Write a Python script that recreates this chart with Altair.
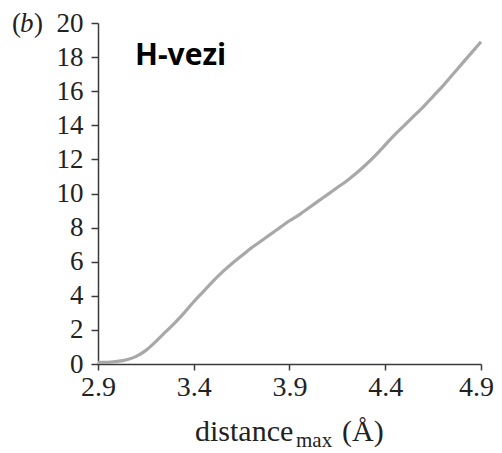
import altair as alt
import pandas as pd

distance = [2.9, 2.95, 3.0, 3.05, 3.1, 3.15, 3.2, 3.25, 3.3, 3.35, 3.4, 3.45, 3.5, 3.55,
            3.6, 3.65, 3.7, 3.75, 3.8, 3.85, 3.9, 3.95, 4.0, 4.05, 4.1, 4.15, 4.2, 4.25,
            4.3, 4.35, 4.4, 4.45, 4.5, 4.55, 4.6, 4.65, 4.7, 4.75, 4.8, 4.85, 4.9]
value = [0.1, 0.1, 0.15, 0.25, 0.45, 0.8, 1.3, 1.85, 2.4, 3.0, 3.65, 4.25, 4.85, 5.4,
         5.9, 6.35, 6.8, 7.2, 7.6, 8.0, 8.4, 8.75, 9.15, 9.55, 9.95, 10.35, 10.75, 11.2,
         11.7, 12.25, 12.85, 13.45, 14.0, 14.55, 15.1, 15.7, 16.3, 16.95, 17.6, 18.25, 18.9]
x_ticks = [2.9, 3.4, 3.9, 4.4, 4.9]
y_ticks = [0, 2, 4, 6, 8, 10, 12, 14, 16, 18, 20]

df = pd.DataFrame({"d": distance, "v": value})
one = pd.DataFrame({"a": [0]})

SERIF = "Liberation Serif"
AX = "#3a3a3a"

line = alt.Chart(df).mark_line(color="#a8a8a8", strokeWidth=3.2, interpolate="monotone").encode(
    x=alt.X("d:Q", scale=alt.Scale(domain=[2.9, 4.9], nice=False, zero=False),
            axis=alt.Axis(values=x_ticks, format=".1f", title=None, grid=False,
                          domainColor=AX, domainWidth=1.5, tickColor=AX, tickWidth=1.5,
                          tickSize=6, labelFont=SERIF, labelFontSize=28, labelColor="#222",
                          labelPadding=3, labelFlush=False,
                          labelOffset={"condition": {"test": "datum.value > 4.85", "value": -5},
                                       "value": 0})),
    y=alt.Y("v:Q", scale=alt.Scale(domain=[0, 20], nice=False),
            axis=alt.Axis(values=y_ticks, title=None, grid=False,
                          domainColor=AX, domainWidth=1.5, tickColor=AX, tickWidth=1.5,
                          tickSize=7, labelFont=SERIF, labelFontSize=27, labelColor="#222",
                          labelPadding=8, labelFlush=False)),
)

def txt(s, x, y, size, font=SERIF, weight="normal", style="normal", color="#222"):
    return alt.Chart(one).mark_text(text=s, font=font, fontSize=size, fontWeight=weight,
                                    fontStyle=style, color=color, align="left",
                                    baseline="alphabetic").encode(
        x=alt.value(x), y=alt.value(y))

labels = [
    txt("H-vezi", 37, 42, 30, font="Open Sans", weight="bold", color="#000"),
    txt("distance", 97, 418, 30),
    txt("max", 198, 424, 21),
    txt("(Å)", 244, 418, 30),
    txt("(", -86, 9, 27),
    txt("b", -78, 9, 27, style="italic"),
    txt(")", -64, 9, 27),
]

chart = alt.layer(line, *labels).properties(
    width=383, height=341,
    autosize=alt.AutoSizeParams(type="none"),
    padding={"left": 90, "top": 15, "right": 13, "bottom": 89},
).configure_view(stroke=None)

chart.save("out.html", embed_options={"renderer": "svg", "actions": False})
